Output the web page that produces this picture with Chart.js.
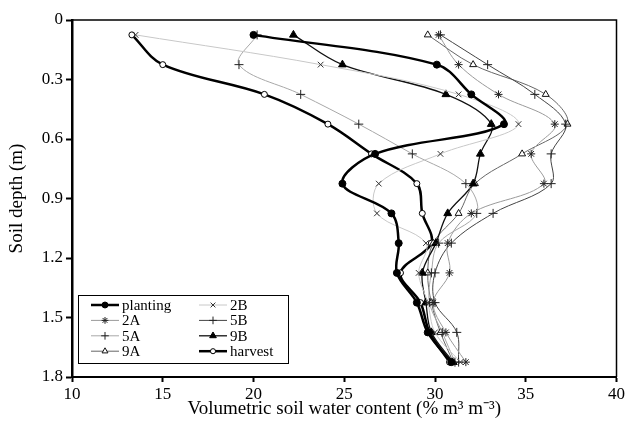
<!DOCTYPE html>
<html>
<head>
<meta charset="utf-8">
<script src="https://cdn.jsdelivr.net/npm/chart.js@4.4.0/dist/chart.umd.min.js"></script>
<style>
  html, body { margin: 0; padding: 0; background: #fff; }
</style>
</head>
<body>
<canvas id="chart" width="627" height="425"></canvas>
<script>
// depth of each reading (m)
const depth = [0.075, 0.225, 0.375, 0.525, 0.675, 0.825, 0.975, 1.125, 1.275, 1.425, 1.575, 1.725];

// volumetric soil water content (%) at each depth
const planting = [20.0, 30.1, 32.0, 33.8, 26.7, 24.9, 27.6, 28.0, 27.9, 29.0, 29.6, 30.9];
const s2B = [13.5, 23.7, 31.3, 34.6, 30.3, 26.9, 26.8, 29.5, 29.1, 29.6, 30.0, 31.4];
const s2A = [30.2, 31.3, 33.5, 36.6, 35.3, 36.0, 32.0, 30.7, 30.8, 29.9, 30.6, 31.7];
const s5B = [30.3, 32.9, 35.5, 37.2, 36.4, 36.4, 33.2, 30.9, 30.0, 30.0, 31.2, 31.3];
const s5A = [20.2, 19.2, 22.6, 25.8, 28.75, 31.7, 32.3, 30.2, 29.8, 29.7, 30.4, 31.1];
const s9B = [22.2, 24.9, 30.6, 33.1, 32.5, 32.1, 30.7, 30.05, 29.3, 29.5, 29.8, 31.0];
const s9A = [29.6, 32.1, 36.1, 37.3, 34.8, 32.2, 31.3, 29.9, 29.6, 29.8, 30.3, 31.0];
const harvest = [13.3, 15.0, 20.6, 24.1, 26.5, 29.0, 29.3, 29.8, 28.1, 29.2, 29.7, 30.8];

const xTicks = [10, 15, 20, 25, 30, 35, 40];
const yTicks = [0, 0.3, 0.6, 0.9, 1.2, 1.5, 1.8];

const serif = "'Liberation Serif', 'Times New Roman', serif";

function toPoints(values) {
  return values.map(function (v, i) {
    return { x: v, y: depth[i] };
  });
}

function series(label, values, color, width, style, radius, fill, markColor) {
  return {
    label: label,
    data: toPoints(values),
    borderColor: color,
    borderWidth: width,
    pointStyle: style,
    pointRadius: radius,
    pointBorderWidth: 1,
    pointBackgroundColor: fill,
    pointBorderColor: markColor || "#000",
    tension: 0.35,
    fill: false,
  };
}

const datasets = [
  series("planting", planting, "#000", 2.5, "circle", 3.5, "#000"),
  series("2B", s2B, "#c8c8c8", 1, "crossRot", 4, "#000", "#333"),
  series("2A", s2A, "#9a9a9a", 1, "star", 4, "#000", "#222"),
  series("5B", s5B, "#444", 1, "cross", 4.5, "#000", "#222"),
  series("5A", s5A, "#a8a8a8", 1, "cross", 4.5, "#000", "#222"),
  series("9B", s9B, "#111", 1.3, "triangle", 4.5, "#000"),
  series("9A", s9A, "#666", 1, "triangle", 4, "#fff", "#111"),
  series("harvest", harvest, "#000", 2.5, "circle", 3, "#fff"),
];

// top and right frame of the plot
const frame = {
  id: "frame",
  afterDatasetsDraw(chart) {
    const a = chart.chartArea;
    const ctx = chart.ctx;
    ctx.save();
    ctx.strokeStyle = "#000";
    ctx.lineWidth = 1.5;
    ctx.beginPath();
    ctx.moveTo(a.left, a.top);
    ctx.lineTo(a.right, a.top);
    ctx.lineTo(a.right, a.bottom);
    ctx.stroke();
    ctx.restore();
  },
};

// two-column legend box inside the plot, lower left
const legendBox = {
  id: "legendBox",
  afterDraw(chart) {
    const a = chart.chartArea;
    const ctx = chart.ctx;
    const x0 = a.left + 6;
    const y0 = a.bottom - 82;
    const w = 210;
    const h = 68;
    ctx.save();
    ctx.fillStyle = "#fff";
    ctx.fillRect(x0, y0, w, h);
    ctx.strokeStyle = "#000";
    ctx.lineWidth = 1;
    ctx.strokeRect(x0 + 0.5, y0 + 0.5, w, h);
    ctx.font = "15px " + serif;
    ctx.textBaseline = "middle";
    chart.data.datasets.forEach(function (ds, i) {
      const col = i % 2;
      const row = Math.floor(i / 2);
      const lx = x0 + 13 + col * 108;
      const ly = y0 + 10 + row * 15.4;
      ctx.strokeStyle = ds.borderColor;
      ctx.lineWidth = ds.borderWidth;
      ctx.beginPath();
      ctx.moveTo(lx, ly);
      ctx.lineTo(lx + 28, ly);
      ctx.stroke();
      // drawPoint uses the current ctx colours
      ctx.fillStyle = ds.pointBackgroundColor;
      ctx.strokeStyle = ds.pointBorderColor;
      ctx.lineWidth = 1;
      Chart.helpers.drawPoint(ctx, {
        pointStyle: ds.pointStyle,
        radius: ds.pointRadius * 0.85,
        borderWidth: 1,
        rotation: 0,
      }, lx + 14, ly);
      ctx.fillStyle = "#000";
      ctx.fillText(ds.label, lx + 31, ly + 1);
    });
    ctx.restore();
  },
};

const ctx = document.getElementById("chart");

const chart = new Chart(ctx, {
  type: "line",
  data: { datasets: datasets },
  options: {
    responsive: false,
    animation: false,
    layout: { padding: { top: 20, right: 9, left: 0, bottom: 0 } },
    plugins: {
      legend: { display: false },
      tooltip: { enabled: false },
    },
    scales: {
      x: {
        type: "linear",
        min: 10,
        max: 40,
        afterBuildTicks: function (scale) {
          scale.ticks = xTicks.map(function (v) { return { value: v }; });
        },
        afterFit: function (scale) {
          scale.height = 48;
        },
        grid: {
          drawOnChartArea: false,
          drawTicks: true,
          tickLength: 5,
          tickWidth: 2,
          tickColor: "#000",
        },
        border: { display: true, color: "#000", width: 2 },
        ticks: {
          color: "#000",
          padding: 2,
          maxRotation: 0,
          font: { family: serif, size: 17 },
        },
        title: {
          display: true,
          text: "Volumetric soil water content (% m\u00b3 m\u207b\u00b3)",
          color: "#000",
          font: { family: serif, size: 19 },
          padding: { top: 0, bottom: 5 },
        },
      },
      y: {
        type: "linear",
        reverse: true,
        min: 0,
        max: 1.8,
        afterBuildTicks: function (scale) {
          scale.ticks = yTicks.map(function (v) { return { value: v }; });
        },
        afterFit: function (scale) {
          scale.width = 72;
        },
        grid: {
          drawOnChartArea: false,
          drawTicks: true,
          tickLength: 6,
          tickWidth: 2,
          tickColor: "#000",
        },
        border: { display: true, color: "#000", width: 2.5 },
        ticks: {
          color: "#000",
          padding: 3,
          font: { family: serif, size: 17 },
          callback: function (value) {
            return String(+value.toFixed(1));
          },
        },
        title: {
          display: true,
          text: "Soil depth (m)",
          color: "#000",
          font: { family: serif, size: 19 },
          padding: { top: 6, bottom: 0 },
        },
      },
    },
  },
  plugins: [frame, legendBox],
});
</script>
</body>
</html>
